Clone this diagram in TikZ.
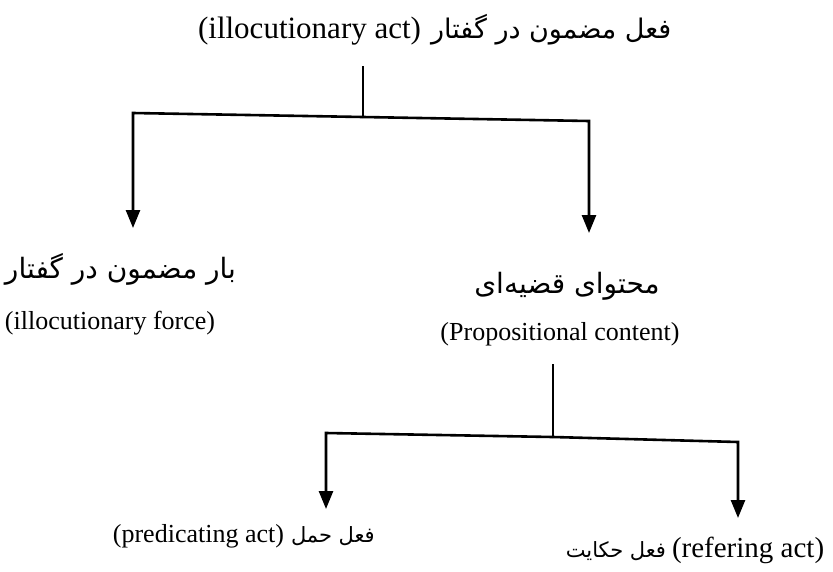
\documentclass[tikz,border=0pt]{standalone}
\usepackage{fontspec}
\setmainfont{Liberation Serif}
\newfontfamily\fa[Script=Arabic]{DejaVu Sans}
\TeXXeTstate=1
\usetikzlibrary{arrows.meta}
\newcommand{\fatext}[1]{{\fa\beginR #1\endR}}
\newcommand{\entext}[1]{\beginL #1\endL}
\tikzset{
  lbl/.style={inner sep=0pt, outer sep=0pt, font=\fontsize{26}{30}\selectfont},
  falbl/.style={inner sep=0pt, outer sep=0pt, font=\fontsize{28}{32}\selectfont},
  topfalbl/.style={inner sep=0pt, outer sep=0pt, font=\fontsize{27}{31}\selectfont},
  smallfa/.style={inner sep=0pt, outer sep=0pt, font=\fontsize{21}{25}\selectfont},
  toplbl/.style={inner sep=0pt, outer sep=0pt, font=\fontsize{31}{35}\selectfont},
  conn/.style={line width=2.6pt, line join=miter},
  arr/.style={conn, -{Triangle[width=14pt,length=18pt]}},
}
\begin{document}
\begin{tikzpicture}[x=1pt,y=-1pt]
\useasboundingbox (0,0) rectangle (833,571);
% labels
\node[toplbl, anchor=base east] (topen) at (421,38) {\entext{(illocutionary act)}};
\node[topfalbl, anchor=base west] (topfa) at (431,38) {\fatext{فعل مضمون در گفتار}};
\node[falbl, anchor=base west] (forcefa) at (5,278) {\fatext{بار مضمون در گفتار}};
\node[lbl, anchor=base west] (forceen) at (5,329) {\entext{(illocutionary force)}};
\node[falbl, anchor=base] (propfa) at (567,293) {\fatext{محتوای قضیه‌ای}};
\node[lbl, anchor=base] (propen) at (560,340) {\entext{(Propositional content)}};
\node[lbl, anchor=base east] (preden) at (284,542) {\entext{(predicating act)}};
\node[smallfa, anchor=base west] (predfa) at (291,542) {\fatext{فعل حمل}};
\node[smallfa, anchor=base east] (reffa) at (666,557) {\fatext{فعل حکایت}};
\node[lbl, anchor=base west, font=\fontsize{29}{33}\selectfont] (refen) at (672,557) {\entext{(refering act)}};
% junction coordinates
\coordinate (t1) at (363,66);
\coordinate (j1) at (363,117);
\coordinate (c1) at (133,113);
\coordinate (c2) at (589,121);
\coordinate (a1) at (133,228);
\coordinate (a2) at (589,233);
\coordinate (t2) at (553,364);
\coordinate (j2) at (553,437);
\coordinate (c3) at (326,433);
\coordinate (c4) at (738,442);
\coordinate (b1) at (326,509);
\coordinate (b2) at (738,518);
% connectors
\draw[conn] (t1) -- (j1);
\draw[arr] (j1) -- (c1) -- (a1);
\draw[arr] (j1) -- (c2) -- (a2);
\draw[conn] (t2) -- (j2);
\draw[arr] (j2) -- (c3) -- (b1);
\draw[arr] (j2) -- (c4) -- (b2);
\end{tikzpicture}
\end{document}
